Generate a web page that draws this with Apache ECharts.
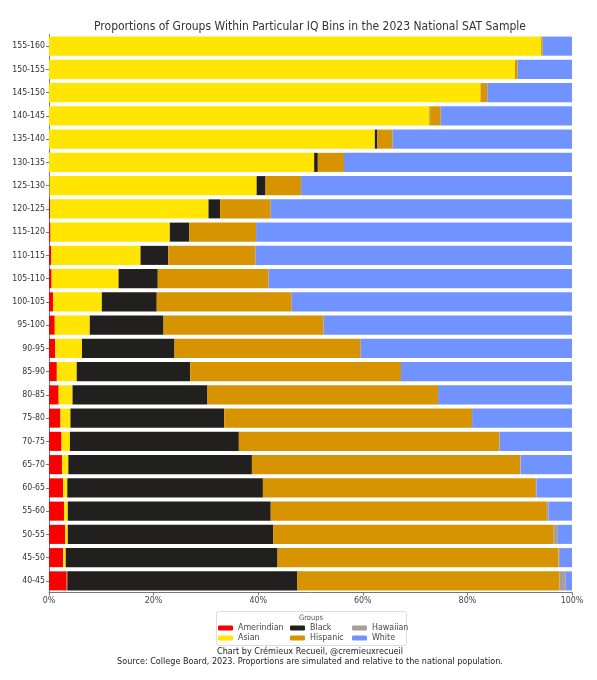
<!DOCTYPE html>
<html>
<head>
<meta charset="utf-8">
<script src="https://cdn.jsdelivr.net/npm/echarts@6/dist/echarts.min.js"></script>
<style>
html,body{margin:0;padding:0;background:#fff;}
#chart{width:597px;height:680px;}
</style>
</head>
<body>
<div id="chart"></div>
<script>
// IQ bins, top to bottom
const bins = ['155-160','150-155','145-150','140-145','135-140','130-135','125-130','120-125','115-120','110-115','105-110','100-105','95-100','90-95','85-90','80-85','75-80','70-75','65-70','60-65','55-60','50-55','45-50','40-45'];
// Percent shares per group (same order as bins)
const amerindian = [0,0,0,0,0,0,0.1,0.2,0.3,0.45,0.5,0.8,1.1,1.2,1.5,1.85,2.2,2.4,2.5,2.7,2.9,3.1,2.7,3.4];
const asian      = [94.1,89.1,82.5,72.8,62.3,50.7,39.6,30.3,22.8,17.05,12.8,9.3,6.7,5.1,3.8,2.65,1.9,1.6,1.2,0.8,0.7,0.5,0.5,0.1];
const black      = [0,0,0,0.1,0.5,0.7,1.7,2.2,3.7,5.3,7.5,10.5,14.1,17.7,21.7,25.8,29.4,32.3,35.1,37.4,38.8,39.3,40.5,44.0];
const hispanic   = [0.3,0.5,1.3,2.0,2.9,5.0,6.8,9.7,12.8,16.7,21.2,25.8,30.6,35.6,40.3,44.1,47.4,49.8,51.3,52.2,52.8,53.6,53.7,50.1];
const hawaiian   = [0,0,0,0,0,0,0,0,0,0,0,0,0,0,0,0,0,0.1,0.1,0.1,0.3,0.8,0.3,1.2];
const white      = [5.6,10.4,16.2,25.1,34.3,43.6,51.8,57.6,60.4,60.5,58.0,53.6,47.5,40.4,32.7,25.6,19.1,13.8,9.8,6.8,4.5,2.7,2.3,1.2];
const xTicks = [0,20,40,60,80,100];

const FONT = '"DejaVu Sans Condensed", "DejaVu Sans"';
const groups = [
  {name:'Amerindian', data:amerindian, color:'#f80000'},
  {name:'Asian',      data:asian,      color:'#ffe500'},
  {name:'Black',      data:black,      color:'#22201e'},
  {name:'Hispanic',   data:hispanic,   color:'#d79400'},
  {name:'Hawaiian',   data:hawaiian,   color:'#a89e9e'},
  {name:'White',      data:white,      color:'#7093ff'}
];

const chart = echarts.init(document.getElementById('chart'), null, {renderer:'canvas'});
const legendBase = {
  orient:'vertical', top:623, itemWidth:15, itemHeight:5, itemGap:0, padding:0,
  icon:'roundRect', selectedMode:false,
  textStyle:{fontFamily:FONT, fontSize:8.8, lineHeight:10, color:'#444', padding:[0,0,0,0]}
};
chart.setOption({
  animation:false,
  backgroundColor:'#fff',
  title:{
    text:'Proportions of Groups Within Particular IQ Bins in the 2023 National SAT Sample',
    left:305, top:16, textAlign:'center',
    textStyle:{fontFamily:FONT, fontSize:12, fontWeight:'normal', color:'#333'}
  },
  legend:[
    Object.assign({}, legendBase, {left:218, data:['Amerindian','Asian']}),
    Object.assign({}, legendBase, {left:290, data:['Black','Hispanic']}),
    Object.assign({}, legendBase, {left:352, data:['Hawaiian','White']})
  ],
  grid:{left:49, right:25, top:34.5, bottom:87.5, containLabel:false},
  xAxis:{
    type:'value', min:0, max:100, interval:20,
    axisLine:{show:true, lineStyle:{color:'#777'}},
    axisTick:{show:true, length:3, lineStyle:{color:'#777'}},
    axisLabel:{formatter: v => xTicks.includes(v) ? v + '%' : '', fontFamily:FONT, fontSize:8.8, color:'#444', margin:4},
    splitLine:{show:false}
  },
  yAxis:{
    type:'category', data:bins, inverse:true,
    axisLine:{show:true, lineStyle:{color:'#777'}},
    axisTick:{show:true, alignWithLabel:true, length:3, lineStyle:{color:'#777'}},
    axisLabel:{fontFamily:FONT, fontSize:8.7, color:'#333', margin:4}
  },
  series: groups.map(g => ({
    name:g.name, type:'bar', stack:'total', data:g.data,
    barCategoryGap:'18%',
    itemStyle:{color:g.color},
    emphasis:{disabled:true}
  })),
  graphic:[
    {type:'rect', left:216, top:611, shape:{width:190, height:34, r:2},
     style:{fill:'#fff', stroke:'#ddd', lineWidth:1}, z:-1},
    {type:'text', top:614,
     style:{text:'Groups', fontFamily:FONT, fontSize:7.5, fill:'#555', x:311, textAlign:'center'}},
    {type:'text', top:647.5,
     style:{text:'Chart by Crémieux Recueil, @cremieuxrecueil', fontFamily:FONT, fontSize:9, fill:'#222', x:310, textAlign:'center'}},
    {type:'text', top:657.5,
     style:{text:'Source: College Board, 2023. Proportions are simulated and relative to the national population.', fontFamily:FONT, fontSize:9, fill:'#222', x:310, textAlign:'center'}}
  ]
});
</script>
</body>
</html>
